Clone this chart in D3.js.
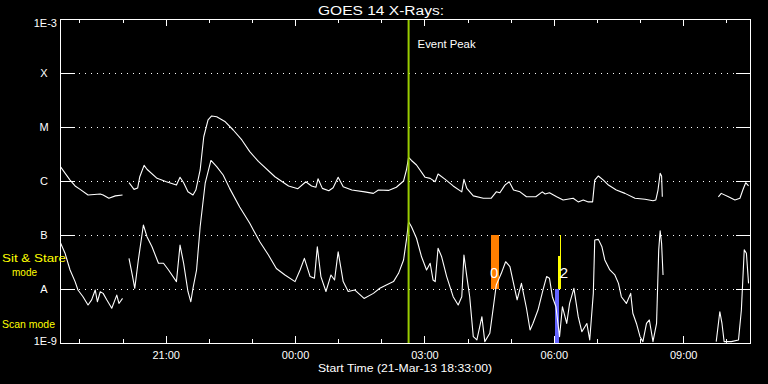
<!DOCTYPE html>
<html><head><meta charset="utf-8">
<script src="https://cdn.jsdelivr.net/npm/d3@7"></script>
<style>
html,body{margin:0;padding:0;background:#000;}
svg{display:block;background:#000;}
text{font-family:"Liberation Sans",Arial,sans-serif;fill:#fff;}
</style></head><body>
<svg id="chart" width="768" height="384"></svg>
<script>
// ---------- data ----------
const startTime = Date.UTC(2013, 2, 21, 18, 33);   // 21-Mar-13 18:33:00
const spanMinutes = 960;

// GOES 14 long channel (1-8 A), minutes after start, W/m^2 (null = data gap)
const longT = [0,14,21,28,39,56,60,68,77,87,91,96,103,108,111,117,121,135,148,162,167,172,178,185,189,195,200,206,211,218,230,241,253,264,276,299,318,331,342,350,356,359,365,374,380,387,394,406,424,436,443,457,468,478,482,485,489,496,508,515,522,526,536,547,559,562,566,575,589,600,607,612,619,625,631,640,649,662,671,675,681,691,700,714,721,728,735,741,744,749,756,763,774,786,800,814,825,829,832,835,837,838,870,916,920,930,939,946,950,954,958];
const longFlux = [1.9e-6,1.04e-6,8.1e-7,7.0e-7,5.5e-7,5.75e-7,5.5e-7,4.8e-7,5.3e-7,5.5e-7,null,9.3e-7,7.0e-7,7.4e-7,1.2e-6,1.95e-6,1.65e-6,1.12e-6,9.7e-7,8.4e-7,1.17e-6,9.3e-7,6.3e-7,5.5e-7,6.8e-7,1.6e-6,6.6e-6,1.35e-5,1.6e-5,1.55e-5,1.25e-5,8.8e-6,5.75e-6,3.5e-6,2.3e-6,1.2e-6,8.1e-7,7.2e-7,9.7e-7,8.1e-7,7.65e-7,1.1e-6,7.3e-7,6.6e-7,7.5e-7,1.17e-6,7.8e-7,6.8e-7,6.3e-7,5.9e-7,6.8e-7,6.7e-7,7.65e-7,1.0e-6,1.6e-6,2.75e-6,2.4e-6,1.98e-6,1.17e-6,1.12e-6,9.7e-7,1.35e-6,1.07e-6,8.1e-7,6.3e-7,1.07e-6,7.3e-7,5.3e-7,4.8e-7,4.8e-7,6.3e-7,6.05e-7,8.4e-7,9.7e-7,6.8e-7,6.3e-7,5.1e-7,5.1e-7,6.3e-7,5.75e-7,6.05e-7,5.1e-7,4.45e-7,4.8e-7,4.1e-7,4.45e-7,4.1e-7,4.1e-7,1.04e-6,1.24e-6,1.04e-6,8.4e-7,6.8e-7,5.9e-7,4.8e-7,4.6e-7,4.3e-7,4.45e-7,6.8e-7,1.39e-6,1.24e-6,5.1e-7,null,5.1e-7,5.9e-7,5.1e-7,4.45e-7,4.8e-7,6.8e-7,9.3e-7,8.1e-7];

// GOES 14 short channel (0.5-4 A)
const shortT = [0,7,14,21,25,32,39,44,49,52,56,60,65,72,79,82,87,91,96,101,104,109,116,121,128,137,144,151,162,167,172,178,182,185,190,195,202,210,218,227,236,250,264,269,278,290,301,313,327,334,340,348,354,358,363,370,377,382,387,394,401,410,423,436,445,454,464,471,478,482,485,489,496,503,510,515,519,522,526,531,538,547,554,559,562,566,570,575,580,587,591,598,603,607,614,620,626,631,636,642,649,654,658,665,672,677,681,685,690,695,699,705,709,715,721,726,733,737,742,744,749,754,758,765,772,777,781,788,794,797,802,807,811,816,820,825,830,833,835,837,839,870,913,918,921,924,934,944,948,952,955,958];
const shortFlux = [7.5e-8,4.6e-8,2.25e-8,1.37e-8,9.6e-9,7.2e-9,5.05e-9,6.3e-9,9.6e-9,5.8e-9,8.9e-9,8.3e-9,6.3e-9,4.4e-9,7.7e-9,5.4e-9,6.7e-9,null,3.7e-8,1.7e-8,1.03e-8,3.45e-8,1.53e-7,9.3e-8,6.05e-8,3.0e-8,3.0e-8,2.25e-8,1.37e-8,6.5e-8,3.0e-8,9.0e-9,5.8e-9,1.03e-8,2.25e-8,1.42e-7,9.1e-7,2.4e-6,1.84e-6,1.29e-6,7.3e-7,3.3e-7,1.65e-7,1.24e-7,7.5e-8,4.26e-8,2.4e-8,1.82e-8,1.37e-8,2.25e-8,3.7e-8,1.7e-8,1.58e-8,6.05e-8,1.7e-8,9.0e-9,1.82e-8,1.47e-8,4.9e-8,1.37e-8,9.0e-9,9.6e-9,6.7e-9,8.3e-9,1.03e-8,1.19e-8,1.37e-8,1.95e-8,3.45e-8,8.1e-8,1.76e-7,1.42e-7,8.7e-8,3.95e-8,2.25e-8,3.0e-8,1.47e-8,1.37e-8,5.7e-8,3.95e-8,1.7e-8,7.2e-9,5.05e-9,7.2e-9,4.26e-8,1.7e-8,7.2e-9,1.31e-9,1.14e-9,3.07e-9,1.06e-9,1.51e-9,4.7e-9,1.19e-8,1.95e-8,3.2e-8,2.6e-8,1.27e-8,6.3e-9,1.27e-8,4.4e-9,1.74e-9,2.3e-9,4.08e-9,9.6e-9,1.7e-8,1.58e-8,7.2e-9,4.7e-9,1.31e-9,4.7e-9,2.3e-9,5.4e-9,1.03e-8,3.07e-9,1.62e-9,2.3e-9,1.14e-9,8.3e-9,8.1e-8,8.3e-8,6.05e-8,3.45e-8,2.25e-8,1.82e-8,1.27e-8,7.2e-9,5.4e-9,8.3e-9,3.55e-9,2.3e-9,1.31e-9,1.06e-9,2.3e-9,2.67e-9,1.06e-9,2.3e-9,5.3e-8,1.2e-7,7.0e-8,1.82e-8,null,1.06e-9,3.8e-9,2.3e-9,1.06e-9,1.06e-9,1.14e-9,4.08e-9,5.3e-8,4.6e-8,1.27e-8];

const yTickValues = [1e-9, 1e-8, 1e-7, 1e-6, 1e-5, 1e-4, 1e-3];
const yTickLabels = ["1E-9", "A", "B", "C", "M", "X", "1E-3"];
const gridLevels = [1e-8, 1e-7, 1e-6, 1e-5, 1e-4];

const eventPeakMin = 485;
const eventLabel = "Event Peak";

// Sit & Stare observations (minutes after start)
const obsLabels = ["0", "2"];
const obsStart = [600, 692.5];
const obsEnd = [611, 697];
const obsTopFlux = [1e-7, 4.1e-8];
const obsMarkMin = [605.5, 695.5];
// Scan mode observations
const scanStart = [688.5];
const scanEnd = [694];

const titleText = "GOES 14 X-Rays:";
const xLabelText = "Start Time (21-Mar-13 18:33:00)";

// ---------- styles ----------
const obsColors = ["#ff7f00", "#ffff00"];
const scanColor = "#6464ff";
const peakColor = "#99cc00";
const modeColor = "#ffff00";

// ---------- chart ----------
const L = 60, R = 750, T = 19, B = 343;
const svg = d3.select("#chart");
const toDate = m => new Date(startTime + m * 60000);

const x = d3.scaleUtc().domain([toDate(0), toDate(spanMinutes)]).range([L, R]);
const y = d3.scaleLog().domain([1e-9, 1e-3]).range([B, T]);

svg.append("defs").append("clipPath").attr("id", "clip")
  .append("rect").attr("x", L).attr("y", T).attr("width", R - L).attr("height", B - T);

// gridlines
svg.append("g").selectAll("line").data(gridLevels).join("line")
  .attr("x1", L + 19).attr("x2", R - 14)
  .attr("y1", d => Math.round(y(d)) + 0.5).attr("y2", d => Math.round(y(d)) + 0.5)
  .attr("stroke", "#fff").attr("stroke-dasharray", "1,5").attr("shape-rendering", "crispEdges");

// observation bars
const obsG = svg.append("g").attr("shape-rendering", "crispEdges");
obsG.selectAll("line.mk").data(obsMarkMin).join("line")
  .attr("x1", d => Math.round(x(toDate(d))) + 0.5).attr("x2", d => Math.round(x(toDate(d))) + 0.5)
  .attr("y1", y(1e-7)).attr("y2", y(1e-8))
  .attr("stroke", (d, i) => obsColors[i]);
obsG.selectAll("rect.ob").data(obsStart).join("rect")
  .attr("x", (d) => x(toDate(d)))
  .attr("width", (d, i) => x(toDate(obsEnd[i])) - x(toDate(d)))
  .attr("y", (d, i) => y(obsTopFlux[i]))
  .attr("height", (d, i) => y(1e-8) - y(obsTopFlux[i]))
  .attr("fill", (d, i) => obsColors[i]);
obsG.selectAll("rect.sc").data(scanStart).join("rect")
  .attr("x", d => x(toDate(d)))
  .attr("width", (d, i) => x(toDate(scanEnd[i])) - x(toDate(d)))
  .attr("y", y(1e-8)).attr("height", y(1e-9) - y(1e-8))
  .attr("fill", scanColor);

// curves
const line = d3.line()
  .defined(d => d[1] != null)
  .x(d => x(toDate(d[0])))
  .y(d => y(d[1]));
const curves = svg.append("g").attr("clip-path", "url(#clip)");
[[longT, longFlux], [shortT, shortFlux]].forEach(([ts, fs]) => {
  curves.append("path")
    .datum(ts.map((t, i) => [t, fs[i]]))
    .attr("d", line)
    .attr("fill", "none").attr("stroke", "#fff").attr("stroke-width", 1.1)
    .attr("stroke-linejoin", "round");
});

// observation labels
svg.append("g").selectAll("text").data(obsLabels).join("text")
  .attr("x", (d, i) => x(toDate(obsMarkMin[i])) + (i === 0 ? -1 : 4))
  .attr("y", 278)
  .attr("text-anchor", "middle").attr("font-size", 15)
  .text(d => d);

// event peak
svg.append("line")
  .attr("x1", x(toDate(eventPeakMin))).attr("x2", x(toDate(eventPeakMin)))
  .attr("y1", T).attr("y2", B)
  .attr("stroke", peakColor).attr("stroke-width", 2);
svg.append("text").attr("x", x(toDate(eventPeakMin)) + 9).attr("y", 48)
  .attr("font-size", 11).attr("textLength", 58).attr("lengthAdjust", "spacingAndGlyphs")
  .text(eventLabel);

// axes
const hourTicks = d3.utcHour.range(toDate(0), toDate(spanMinutes));
const isMajor = d => d.getUTCHours() % 3 === 0;
const fmt = d3.utcFormat("%H:%M");

const xb = svg.append("g").attr("transform", `translate(0,${B})`)
  .call(d3.axisBottom(x).tickValues(hourTicks).tickSize(-4).tickPadding(8)
    .tickFormat(d => isMajor(d) ? fmt(d) : ""));
xb.selectAll(".tick line").filter(isMajor).attr("y2", -7);
const xt = svg.append("g").attr("transform", `translate(0,${T})`)
  .call(d3.axisTop(x).tickValues(hourTicks).tickSize(-4).tickFormat(""));
xt.selectAll(".tick line").filter(isMajor).attr("y2", 7);

const yl = svg.append("g").attr("transform", `translate(${L},0)`)
  .call(d3.axisLeft(y).tickValues(yTickValues).tickSize(-15)
    .tickFormat((d, i) => yTickLabels[i]));
yl.selectAll(".tick text")
  .attr("text-anchor", (d, i) => (i === 0 || i === 6) ? "end" : "middle")
  .attr("x", (d, i) => (i === 0 || i === 6) ? -3 : -16)
  .attr("dy", (d, i) => i === 6 ? "0.71em" : (i === 0 ? "0" : "0.35em"))
  .attr("y", (d, i) => i === 6 ? 0 : (i === 0 ? 1 : 0));
svg.append("g").attr("transform", `translate(${R},0)`)
  .call(d3.axisRight(y).tickValues(yTickValues).tickSize(-14).tickFormat(""));

svg.selectAll(".domain").remove();
svg.selectAll(".tick line").attr("stroke", "#fff").attr("shape-rendering", "crispEdges");
svg.selectAll(".tick text").attr("fill", "#fff")
  .attr("font-family", "Liberation Sans, Arial, sans-serif").attr("font-size", 11);

// frame
svg.append("rect").attr("x", L + 0.5).attr("y", T + 0.5).attr("width", R - L).attr("height", B - T)
  .attr("fill", "none").attr("stroke", "#fff").attr("shape-rendering", "crispEdges");

// titles
svg.append("text").attr("x", 381).attr("y", 15).attr("text-anchor", "middle")
  .attr("font-size", 12).attr("textLength", 126).attr("lengthAdjust", "spacingAndGlyphs")
  .text(titleText);
svg.append("text").attr("x", 405).attr("y", 372).attr("text-anchor", "middle")
  .attr("font-size", 11).attr("textLength", 174).attr("lengthAdjust", "spacingAndGlyphs")
  .text(xLabelText);

// mode labels
const modeG = svg.append("g").attr("font-size", 11).style("fill", modeColor);
modeG.append("text").attr("x", 2).attr("y", 262).attr("textLength", 64)
  .attr("lengthAdjust", "spacingAndGlyphs").style("fill", modeColor).text("Sit & Stare");
modeG.append("text").attr("x", 12).attr("y", 276).attr("textLength", 25)
  .attr("lengthAdjust", "spacingAndGlyphs").style("fill", modeColor).text("mode");
modeG.append("text").attr("x", 2).attr("y", 328).attr("textLength", 53)
  .attr("lengthAdjust", "spacingAndGlyphs").style("fill", modeColor).text("Scan mode");
</script>
</body></html>
